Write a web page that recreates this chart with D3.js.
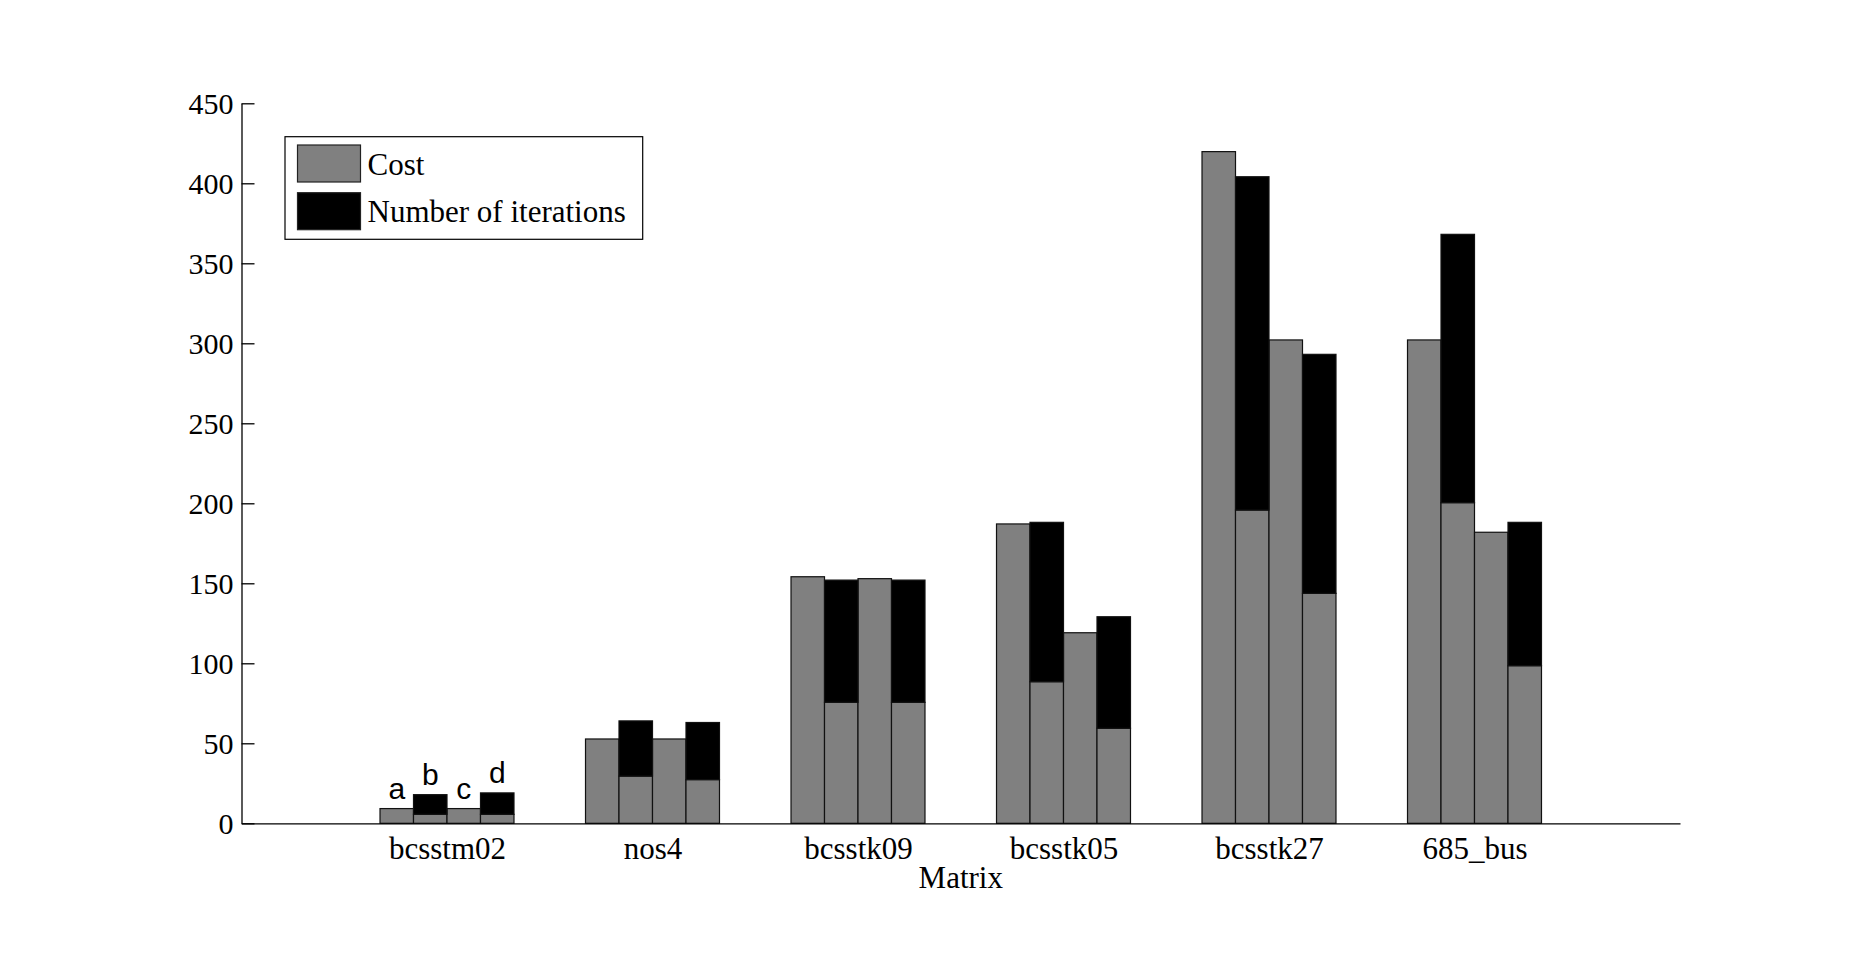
<html>

<head>
    <title>Matrix cost</title>
    <script src='https://d3js.org/d3.v7.min.js'></script>
    <style>
        body { margin: 0; background: #fff; }
        text { font-family: "Liberation Serif", "Times New Roman", serif; }
        .bar { stroke: #111; stroke-width: 1.2; }
    </style>
</head>

<body>
    <svg id="chart"></svg>
    <script>
        // data
        var matrices = ["bcsstm02", "nos4", "bcsstk09", "bcsstk05", "bcsstk27", "685_bus"];
        var variants = ["a", "b", "c", "d"];
        // gray part of each bar (Cost), 4 bars per matrix
        var costValues = [
            [9.2, 5.6, 9.2, 5.6],
            [52.7, 29.5, 52.7, 27.3],
            [154.1, 75.6, 152.9, 75.6],
            [187.1, 88.5, 119.1, 59.4],
            [419.8, 195.8, 302.1, 143.7],
            [302.1, 200.4, 181.9, 98.5]
        ];
        // black part stacked on top (Number of iterations)
        var iterValues = [
            [0, 12.3, 0, 13.4],
            [0, 34.5, 0, 35.7],
            [0, 76.4, 0, 76.4],
            [0, 99.6, 0, 69.7],
            [0, 208.3, 0, 149.4],
            [0, 167.7, 0, 89.6]
        ];
        var yTicks = [0, 50, 100, 150, 200, 250, 300, 350, 400, 450];
        var seriesNames = ["Cost", "Number of iterations"];
        var seriesColors = ["#808080", "#000000"];

        var width = 1856, height = 962;
        var svg = d3.select("#chart").attr("width", width).attr("height", height);

        var x = d3.scaleLinear().domain([0, 7]).range([241.5, 1680]);
        var y = d3.scaleLinear().domain([0, 450]).range([823.3, 103.3]);
        var bw = 0.163;

        // flat rows for d3.stack
        var rows = [];
        matrices.forEach(function (m, i) {
            variants.forEach(function (v, j) {
                rows.push({ pos: i + 1 - 2 * bw + j * bw, variant: v, cost: costValues[i][j], iter: iterValues[i][j] });
            });
        });
        var stacked = d3.stack().keys(["cost", "iter"])(rows);

        svg.append("g")
            .selectAll("g")
            .data(stacked)
            .enter()
            .append("g")
            .attr("fill", function (d, i) { return seriesColors[i]; })
            .selectAll("rect")
            .data(function (d) { return d.filter(function (p) { return p[1] > p[0]; }); })
            .enter()
            .append("rect")
            .attr("class", "bar")
            .attr("x", function (d) { return x(d.data.pos); })
            .attr("width", function (d) { return x(d.data.pos + bw) - x(d.data.pos); })
            .attr("y", function (d) { return y(d[1]); })
            .attr("height", function (d) { return y(d[0]) - y(d[1]); });

        // a b c d over the first group
        svg.append("g")
            .selectAll("text")
            .data(rows.slice(0, 4))
            .enter()
            .append("text")
            .attr("x", function (d) { return x(d.pos + bw / 2); })
            .attr("y", function (d) { return y(d.cost + d.iter) - 10; })
            .attr("text-anchor", "middle")
            .style("font-family", "'Liberation Sans', Arial, sans-serif")
            .style("font-size", "30px")
            .text(function (d) { return d.variant; });

        // axes
        var yAxis = svg.append("g")
            .attr("transform", "translate(" + x(0) + ",0)")
            .call(d3.axisLeft(y).tickValues(yTicks).tickSizeInner(-13).tickSizeOuter(0).tickPadding(8));
        yAxis.selectAll("text").style("font-size", "30px").attr("font-family", null).attr("dy", "0.34em");

        var xAxis = svg.append("g")
            .attr("transform", "translate(0," + y(0) + ")")
            .call(d3.axisBottom(x).tickValues([1, 2, 3, 4, 5, 6])
                .tickFormat(function (d) { return matrices[d - 1]; })
                .tickSizeInner(0).tickSizeOuter(0));
        xAxis.selectAll("text").style("font-size", "31px").attr("font-family", null)
            .attr("y", 36).attr("dy", 0);
        svg.selectAll(".domain, .tick line").attr("stroke", "#000").attr("stroke-width", 1.3);

        svg.append("text")
            .attr("x", (x(0) + x(7)) / 2)
            .attr("y", 888)
            .attr("text-anchor", "middle")
            .style("font-size", "31px")
            .text("Matrix");

        // legend
        var legend = svg.append("g");
        legend.append("rect")
            .attr("x", 285).attr("y", 136.7).attr("width", 357.7).attr("height", 102.6)
            .attr("fill", "#fff").attr("stroke", "#000").attr("stroke-width", 1.2);
        seriesNames.forEach(function (name, i) {
            legend.append("rect")
                .attr("x", 297.5).attr("y", 145 + i * 47.7).attr("width", 63).attr("height", 37)
                .attr("fill", seriesColors[i]).attr("stroke", "#222").attr("stroke-width", 1.2);
            legend.append("text")
                .attr("x", 367.5).attr("y", 174.5 + i * 47.4)
                .style("font-size", "31px")
                .text(name);
        });
    </script>
</body>

</html>
